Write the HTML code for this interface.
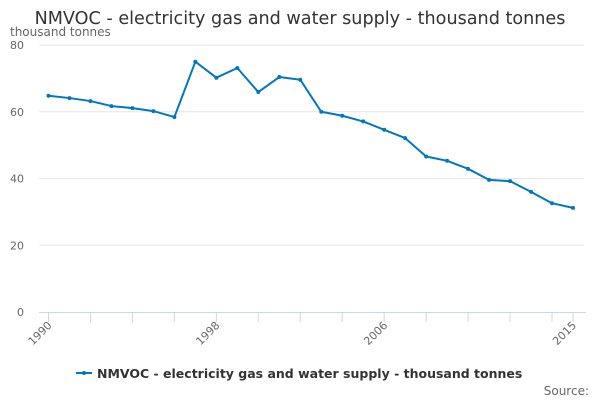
<!DOCTYPE html>
<html><head><meta charset="utf-8"><style>
body{margin:0;background:#fff}
svg{display:block;font-family:"DejaVu Sans","Liberation Sans",sans-serif}
</style></head><body>
<svg id="c" width="600" height="400">
<text x="300" y="24" text-anchor="middle" font-size="17.6" fill="#333">NMVOC - electricity gas and water supply - thousand tonnes</text>
<text x="10" y="36" font-size="12" fill="#666">thousand tonnes</text>
<g id="grid"></g><g id="xaxis"></g><g id="series"></g>
<g>
<line x1="76" y1="373" x2="92" y2="373" stroke="#0077c0" stroke-width="2"/>
<circle cx="84" cy="373" r="2" fill="#0077c0"/>
<text x="97" y="378" font-size="12.5" font-weight="bold" fill="#333">NMVOC - electricity gas and water supply - thousand tonnes</text>
</g>
<text x="589" y="395" text-anchor="end" font-size="12" fill="#666">Source:</text>
</svg>
<script>
const years=[1990,1991,1992,1993,1994,1995,1996,1997,1998,1999,2000,2001,2002,2003,2004,2005,2006,2007,2008,2009,2010,2011,2012,2013,2014,2015];
const values=[64.8,64.1,63.2,61.7,61.1,60.2,58.4,75.0,70.2,73.1,65.9,70.4,69.6,60.0,58.8,57.1,54.6,52.1,46.6,45.3,42.9,39.6,39.2,36.0,32.6,31.2];
const yTicks=[0,20,40,60,80];
const xLabels=[1990,1998,2006,2015];
const NS="http://www.w3.org/2000/svg";
const x=v=>48.5+(v-1990)*(573-48.5)/25;
const y=v=>312-v*(312-45)/80;
function mk(t,a,p){const e=document.createElementNS(NS,t);for(const k in a)e.setAttribute(k,a[k]);p.appendChild(e);return e;}
const g=document.getElementById('grid');
yTicks.forEach(t=>{
 if(t>0){const l=mk('line',{x1:39,x2:584,y1:y(t),y2:y(t),stroke:'#e6e6e6'},g);
 
 }
 const tx=mk('text',{x:24,y:y(t)+4,'text-anchor':'end','font-size':11,fill:'#666'},g);
 
 
 tx.textContent=t;
});
const xa=document.getElementById('xaxis');
const al=mk('line',{x1:39,x2:586,y1:312.5,y2:312.5,stroke:'#ccd6eb'},xa);


for(let yr=1990;yr<=2015;yr+=2){
 const t=mk('line',{x1:x(yr),x2:x(yr),y1:312,y2:322,stroke:'#ccd6eb'},xa);
 
 
}
const tk=mk('line',{x1:x(2015),x2:x(2015),y1:312,y2:322,stroke:'#ccd6eb'},xa);


xLabels.forEach(yr=>{
 const tx=mk('text',{x:x(yr)+4,y:326,'text-anchor':'end','font-size':11,fill:'#666',transform:`rotate(-45 ${x(yr)+4} 326)`},xa);
 
 
 tx.textContent=yr;
});
const s=document.getElementById('series');
const p=mk('polyline',{points:years.map((yr,i)=>x(yr)+','+y(values[i])).join(' '),fill:'none',stroke:'#0077c0','stroke-width':2,'stroke-linejoin':'round'},s);


years.forEach((yr,i)=>{
 const c=mk('circle',{cx:x(yr),cy:y(values[i]),r:2,fill:'#0077c0'},s);
 
 
});
</script>
</body></html>
